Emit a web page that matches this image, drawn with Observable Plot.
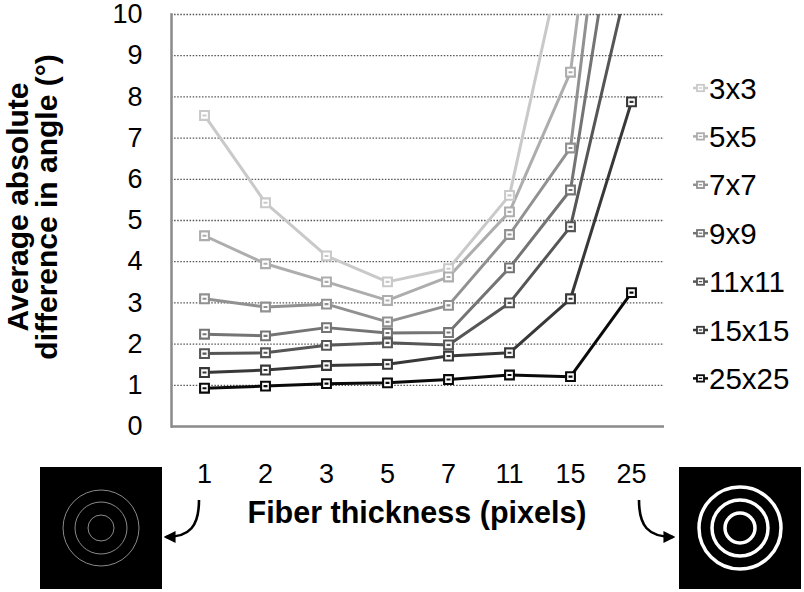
<!DOCTYPE html>
<html>
<head>
<meta charset="utf-8">
<script src="https://cdn.jsdelivr.net/npm/d3@7"></script>
<script src="https://cdn.jsdelivr.net/npm/@observablehq/plot@0.6"></script>
<style>
  html, body { margin: 0; padding: 0; background: #fff; }
  #wrap { position: relative; width: 804px; height: 592px; overflow: hidden; background: #fff; }
  #wrap svg { position: absolute; left: 0; top: 0; overflow: visible; }
</style>
</head>
<body>
<div id="wrap"></div>
<script>
// ---- data ----
const categories = ["1", "2", "3", "5", "7", "11", "15", "25"];
const seriesNames = ["3x3", "5x5", "7x7", "9x9", "11x11", "15x15", "25x25"];
const s3x3   = [7.55, 5.43, 4.14, 3.51, 3.83, 5.61, 12.3, 25.0];
const s5x5   = [4.63, 3.95, 3.51, 3.06, 3.63, 5.21, 8.60, 20.2];
const s7x7   = [3.10, 2.90, 2.97, 2.54, 2.94, 4.66, 6.76, 18.7];
const s9x9   = [2.24, 2.20, 2.40, 2.27, 2.28, 3.85, 5.74, 15.0];
const s11x11 = [1.77, 1.79, 1.97, 2.03, 1.98, 3.00, 4.85, 11.2];
const s15x15 = [1.31, 1.37, 1.48, 1.51, 1.71, 1.79, 3.10, 7.88];
const s25x25 = [0.93, 0.98, 1.04, 1.06, 1.14, 1.25, 1.21, 3.25];
const seriesValues = [s3x3, s5x5, s7x7, s9x9, s11x11, s15x15, s25x25];
const seriesColors = ["#c9c9c9", "#adadad", "#919191", "#747474", "#565656", "#383838", "#0a0a0a"];
const yTicks = [0, 1, 2, 3, 4, 5, 6, 7, 8, 9, 10];
const xTitle = "Fiber thickness (pixels)";
const yTitle = ["Average absolute", "difference in angle (°)"];

const rows = [];
seriesNames.forEach((name, i) => {
  categories.forEach((c, j) => rows.push({series: name, thickness: c, value: seriesValues[i][j]}));
});

// square marker with a short inner bar (Excel style)
const markerSymbol = {
  draw(ctx, size) {
    const h = Math.sqrt(size / Math.PI);
    ctx.moveTo(-h, -h); ctx.lineTo(h, -h); ctx.lineTo(h, h); ctx.lineTo(-h, h); ctx.closePath();
    ctx.moveTo(-h * 0.45, 0); ctx.lineTo(h * 0.45, 0);
  }
};

const chart = Plot.plot({
  width: 804,
  height: 592,
  marginLeft: 171,
  marginRight: 140,
  marginTop: 14,
  marginBottom: 166,
  style: {fontFamily: "Arial, 'Liberation Sans', sans-serif", fontSize: "27px", color: "#000", background: "transparent", overflow: "visible"},
  x: {type: "point", domain: categories, padding: 0.5},
  y: {domain: [0, 10]},
  color: {domain: seriesNames, range: seriesColors},
  marks: [
    Plot.gridY(yTicks.slice(1), {stroke: "#555", strokeOpacity: 1, strokeWidth: 1.3, strokeDasharray: "1.5,1.6"}),
    Plot.axisY(yTicks, {tickSize: 0, tickPadding: 29, label: null, fontSize: 27}),
    Plot.axisX({tickSize: 0, tickPadding: 37, label: null, fontSize: 27}),
    Plot.ruleY([0], {stroke: "#8a8a8a", strokeWidth: 2.5}),
    Plot.frame({anchor: "left", stroke: "#8a8a8a", strokeWidth: 2.5}),
    Plot.line(rows, {x: "thickness", y: "value", z: "series", stroke: "series", strokeWidth: 3, clip: true}),
    Plot.dot(rows, {x: "thickness", y: "value", stroke: "series", fill: "white", symbol: markerSymbol, r: 4.4, strokeWidth: 2.1, clip: true})
  ]
});
document.getElementById("wrap").appendChild(chart);

// ---- overlay: titles, legend, illustrations ----
const ov = d3.select("#wrap").append("svg")
  .attr("width", 804).attr("height", 592)
  .style("font-family", "Arial, 'Liberation Sans', sans-serif");

// y title (two lines, rotated)
yTitle.forEach((t, i) => {
  ov.append("text")
    .attr("transform", `translate(${28 + i * 29},207) rotate(-90)`)
    .attr("text-anchor", "middle")
    .attr("font-size", 30).attr("font-weight", "bold")
    .text(t);
});
// x title
ov.append("text")
  .attr("x", 417).attr("y", 523)
  .attr("text-anchor", "middle")
  .attr("font-size", 30.5).attr("font-weight", "bold")
  .text(xTitle);

// legend
const lg = ov.append("g");
seriesNames.forEach((name, i) => {
  const cy = 88 + i * 48.4;
  const c = seriesColors[i];
  lg.append("line").attr("x1", 693).attr("x2", 708).attr("y1", cy).attr("y2", cy)
    .attr("stroke", c).attr("stroke-width", 2.5);
  lg.append("rect").attr("x", 697).attr("y", cy - 3.2).attr("width", 7).attr("height", 6.4)
    .attr("fill", "white").attr("stroke", c).attr("stroke-width", 1.8);
  lg.append("line").attr("x1", 698.8).attr("x2", 702.2).attr("y1", cy).attr("y2", cy)
    .attr("stroke", c).attr("stroke-width", 1.3);
  lg.append("text").attr("x", 709).attr("y", cy).attr("dy", "0.36em")
    .attr("font-size", 29.5).attr("fill", "#000").text(name);
});

// arrow marker
const defs = ov.append("defs");
defs.append("marker").attr("id", "ah").attr("viewBox", "0 0 10 10")
  .attr("refX", 8).attr("refY", 5).attr("markerWidth", 4.6).attr("markerHeight", 4.6)
  .attr("orient", "auto-start-reverse")
  .append("path").attr("d", "M0,0 L10,5 L0,10 Z").attr("fill", "#000");

// left illustration
ov.append("rect").attr("x", 40).attr("y", 467).attr("width", 122).attr("height", 122).attr("fill", "#000");
[38, 26, 13].forEach(r => ov.append("circle").attr("cx", 101).attr("cy", 528).attr("r", r)
  .attr("fill", "none").attr("stroke", "#8a8a8a").attr("stroke-width", 1));
ov.append("path").attr("d", "M199,500 C199,526 190,537 166,537")
  .attr("fill", "none").attr("stroke", "#000").attr("stroke-width", 2.6).attr("marker-end", "url(#ah)");

// right illustration
ov.append("rect").attr("x", 679).attr("y", 467).attr("width", 122).attr("height", 122).attr("fill", "#000");
[41, 28, 15].forEach(r => ov.append("circle").attr("cx", 740).attr("cy", 528).attr("r", r)
  .attr("fill", "none").attr("stroke", "#fff").attr("stroke-width", 3.5));
ov.append("path").attr("d", "M639,500 C639,526 648,537 673,537")
  .attr("fill", "none").attr("stroke", "#000").attr("stroke-width", 2.6).attr("marker-end", "url(#ah)");
</script>
</body>
</html>
